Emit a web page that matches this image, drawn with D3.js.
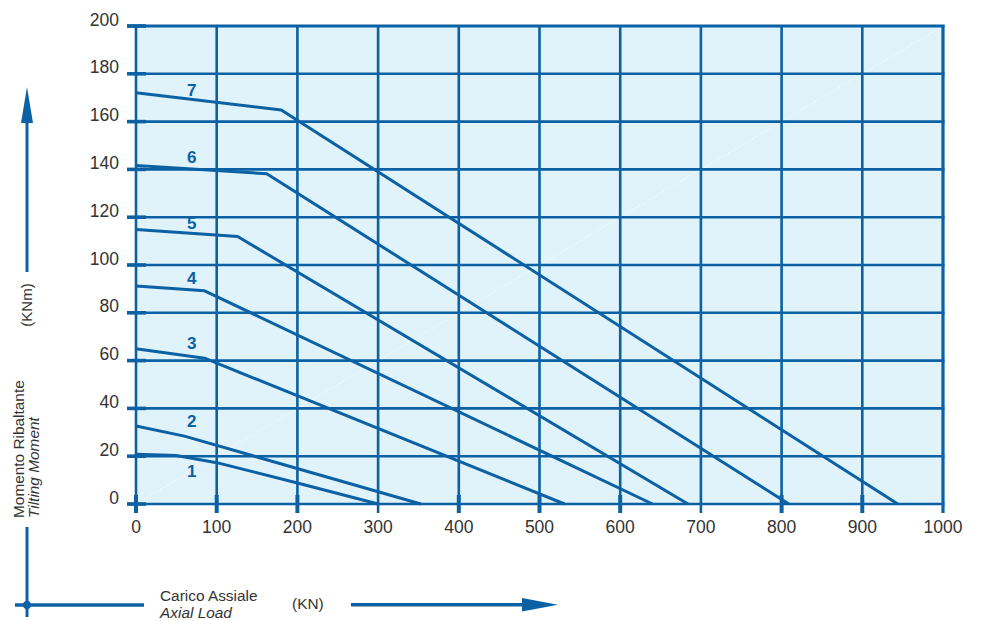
<!DOCTYPE html>
<html><head><meta charset="utf-8">
<script src="https://cdn.jsdelivr.net/npm/d3@7"></script>
<style>
html,body{margin:0;padding:0;background:#fff;}
svg{display:block;font-family:"Liberation Sans",Arial,sans-serif;}
</style></head>
<body>
<svg id="c" width="982" height="621"></svg>
<script>
// ---- data ----
const xTicks = [0,100,200,300,400,500,600,700,800,900,1000];
const yTicks = [0,20,40,60,80,100,120,140,160,180,200];
const curveNames = ["1","2","3","4","5","6","7"];
const curve1 = [[0,20.8],[50,20.3],[100,17.3],[200,8.8],[300,0]];
const curve2 = [[0,32.6],[60,28.4],[353,0]];
const curve3 = [[0,65.0],[85,61.0],[531,0]];
const curve4 = [[0,91.2],[85,89.2],[640,0]];
const curve5 = [[0,114.9],[126,111.9],[684,0]];
const curve6 = [[0,141.6],[162,138.2],[809,0]];
const curve7 = [[0,172.1],[180,164.9],[944,0]];
const curves = [curve1,curve2,curve3,curve4,curve5,curve6,curve7];
const labelAnchorX = 69;
const labelAnchorY = [11.3,32.2,64.9,92.0,115.1,142.7,170.7];
const thinTickValues = [300,700,1000];

const BLUE = "#0b61a4";
const svg = d3.select("#c");
const x = d3.scaleLinear().domain([0,1000]).range([136,943]);
const y = d3.scaleLinear().domain([0,200]).range([504,26]);

// background
svg.append("rect").attr("x",x(0)).attr("y",y(200)).attr("width",x(1000)-x(0)).attr("height",y(0)-y(200)).attr("fill","#e0f2fa");

// faint diagonal
svg.append("line").attr("x1",x(0)).attr("y1",y(0)).attr("x2",x(1000)).attr("y2",y(200))
  .attr("stroke","#ffffff").attr("stroke-width",1).attr("stroke-dasharray","2,2").attr("opacity",0.9);

// grid
const g = svg.append("g");
g.selectAll("line.v").data(xTicks).join("line")
  .attr("x1",d=>x(d)).attr("x2",d=>x(d)).attr("y1",y(200)-1).attr("y2",y(0)+9)
  .attr("stroke",BLUE).attr("stroke-width",d=>d===1000?3.2:2.6);
g.selectAll("line.h").data(yTicks).join("line")
  .attr("x1",x(0)-9).attr("x2",x(1000)+1.5).attr("y1",d=>y(d)).attr("y2",d=>y(d))
  .attr("stroke",BLUE).attr("stroke-width",d=>d===200?3.2:2.6);
// thick tick marks
g.selectAll("line.yt").data(yTicks).join("line")
  .attr("x1",x(0)-9).attr("x2",x(0)+10).attr("y1",d=>y(d)).attr("y2",d=>y(d))
  .attr("stroke",BLUE).attr("stroke-width",3.6);
g.selectAll("line.xt").data(xTicks.filter(d=>!thinTickValues.includes(d))).join("line")
  .attr("x1",d=>x(d)).attr("x2",d=>x(d)).attr("y1",y(0)-9).attr("y2",y(0)+9)
  .attr("stroke",BLUE).attr("stroke-width",4);

// tick labels
svg.append("g").selectAll("text").data(yTicks).join("text")
  .attr("x",119).attr("y",d=>y(d)-0.5).attr("text-anchor","end")
  .attr("font-size",17.5).attr("fill","#333").text(d=>d);
svg.append("g").selectAll("text").data(xTicks).join("text")
  .attr("x",d=>x(d)).attr("y",533).attr("text-anchor","middle")
  .attr("font-size",17.5).attr("fill","#333").text(d=>d);

// curves
const line = d3.line().x(d=>x(d[0])).y(d=>y(d[1]));
svg.append("g").selectAll("path").data(curves).join("path")
  .attr("d",line).attr("fill","none").attr("stroke",BLUE).attr("stroke-width",3)
  .attr("stroke-linejoin","round");
svg.append("g").selectAll("text").data(curveNames).join("text")
  .attr("x",x(labelAnchorX)).attr("y",(d,i)=>y(labelAnchorY[i])).attr("text-anchor","middle")
  .attr("font-size",17).attr("font-weight","bold").attr("fill",BLUE).text(d=>d);

// y axis arrow
svg.append("line").attr("x1",27).attr("x2",27).attr("y1",272).attr("y2",118).attr("stroke",BLUE).attr("stroke-width",3);
svg.append("path").attr("d","M27,87 L33,123 L21,123 Z").attr("fill",BLUE);
svg.append("text").attr("transform","translate(32,305) rotate(-90)").attr("text-anchor","middle")
  .attr("font-size",15).attr("fill","#333").text("(KNm)");
svg.append("text").attr("transform","translate(23.5,518) rotate(-90)").attr("text-anchor","start")
  .attr("font-size",15.4).attr("fill","#333").text("Momento Ribaltante");
svg.append("text").attr("transform","translate(38.5,518) rotate(-90)").attr("text-anchor","start")
  .attr("font-size",15.4).attr("font-style","italic").attr("fill","#333").text("Tilting Moment");

// bottom-left corner cross
svg.append("line").attr("x1",27).attr("x2",27).attr("y1",527).attr("y2",617).attr("stroke",BLUE).attr("stroke-width",3);
svg.append("line").attr("x1",15).attr("x2",144).attr("y1",605).attr("y2",605).attr("stroke",BLUE).attr("stroke-width",3.4);
svg.append("circle").attr("cx",27).attr("cy",605).attr("r",4).attr("fill",BLUE);

// x axis labels and arrow
svg.append("text").attr("x",160).attr("y",601).attr("font-size",15.4).attr("fill","#333").text("Carico Assiale");
svg.append("text").attr("x",160).attr("y",618).attr("font-size",15.4).attr("font-style","italic").attr("fill","#333").text("Axial Load");
svg.append("text").attr("x",292).attr("y",609).attr("font-size",15.4).attr("fill","#333").text("(KN)");
svg.append("line").attr("x1",351).attr("x2",525).attr("y1",604.7).attr("y2",604.7).attr("stroke",BLUE).attr("stroke-width",3.4);
svg.append("path").attr("d","M558,604.7 L522,598 L522,611.4 Z").attr("fill",BLUE);
</script>
</body></html>
